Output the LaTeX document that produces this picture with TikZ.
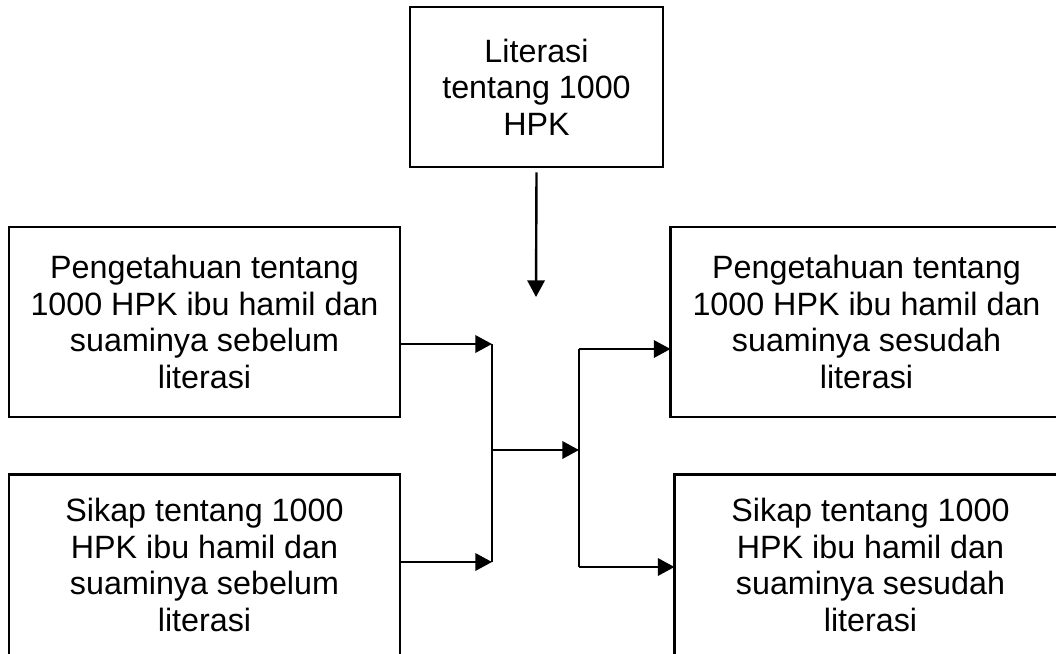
\documentclass[tikz,border=0pt]{standalone}
\usepackage{fontspec}
\setmainfont{Liberation Sans}
\usetikzlibrary{arrows.meta}
\begin{document}
\begin{tikzpicture}[x=0.75pt,y=-0.75pt,
  box/.style={draw,line width=2pt,rectangle,inner sep=0pt,outer sep=0pt,align=center,
    font=\fontsize{24.2pt}{27.5pt}\selectfont},
  arr/.style={line width=1.8pt,-{Triangle[length=12.5pt,width=13pt]}},
  bar/.style={line width=1.3pt}]
\useasboundingbox (0,0) rectangle (1056,653);
\fill[white] (0,0) rectangle (1056,653);
\node[box,minimum width=189.75pt,minimum height=120pt] (top) at (536.5,87) {Literasi\\tentang 1000\\HPK};
\node[box,minimum width=293.25pt,minimum height=142.5pt] (lt) at (204.5,322) {Pengetahuan tentang\\1000 HPK ibu hamil dan\\suaminya sebelum\\literasi};
\node[box,minimum width=293.25pt,minimum height=136pt] (lb) at (204.5,565) {Sikap tentang 1000\\HPK ibu hamil dan\\suaminya sebelum\\literasi};
\node[box,minimum width=294pt,minimum height=142.5pt] (rt) at (866.5,322) {Pengetahuan tentang\\1000 HPK ibu hamil dan\\suaminya sesudah\\literasi};
\node[box,minimum width=294pt,minimum height=136pt] (rb) at (870.5,565) {Sikap tentang 1000\\HPK ibu hamil dan\\suaminya sesudah\\literasi};
\coordinate (tp) at (536,297);
\coordinate (j1) at (492,344);
\coordinate (j2) at (492,562);
\coordinate (jm) at (492,450);
\coordinate (k1) at (579,349);
\coordinate (k2) at (579,567);
\coordinate (km) at (579,450);
\draw[arr] ([yshift=-4pt]top.south) -- (tp);
\draw[arr] (lt.east |- j1) -- (j1);
\draw[arr] (lb.east |- j2) -- (j2);
\draw[bar] (j1) -- (j2);
\draw[arr] (jm) -- (km);
\draw[bar] (k1) -- (k2);
\draw[arr] (k1) -- (rt.west |- k1);
\draw[arr] (k2) -- (rb.west |- k2);
\end{tikzpicture}
\end{document}
